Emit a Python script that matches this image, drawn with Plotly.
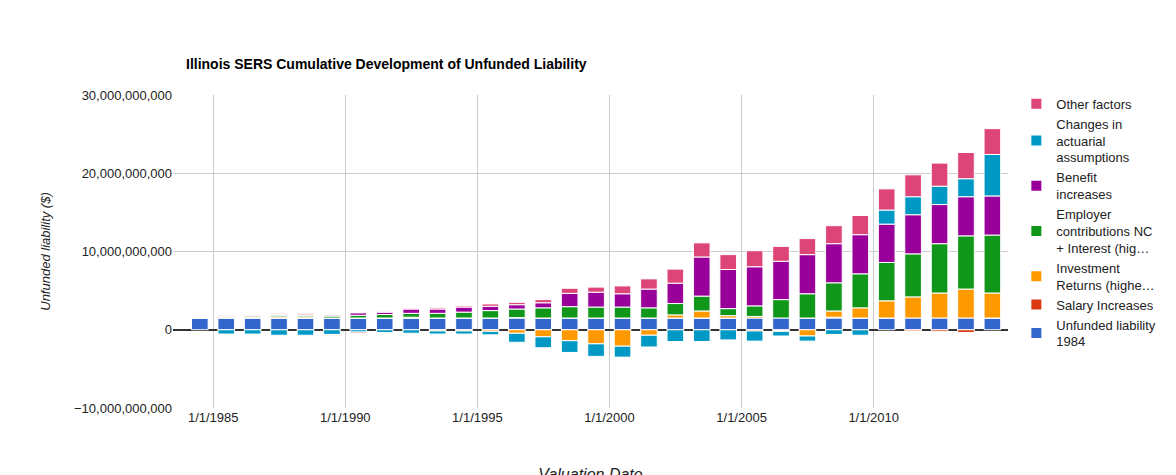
import plotly.graph_objects as go

# valuation dates (June 30 of each year, 1984-2014)
years = list(range(1984, 2015))
dates = [f"{y}-06-30" for y in years]

# values in billions of dollars
unfunded_1984 = [1.5] * 31
salary = [0, 0, 0, 0, 0, 0, 0, 0, 0, 0, 0, 0, 0.05, 0, 0, 0, 0, 0, 0, 0, 0, -0.15, -0.1, 0, 0.1, 0, 0, -0.15, -0.2, -0.35, 0]
investment = [0, 0.1, 0.1, 0.15, 0.15, 0, 0, 0, 0.1, -0.15, -0.15, -0.2, -0.45, -0.9, -1.4, -1.8,
              -2.1, -0.7, 0.4, 0.9, 0.3, 0.2, -0.1, -0.8, 0.8, 1.3, 2.2, 2.7, 3.2, 3.7, 3.2]
employer = [0, 0.1, 0.15, 0.2, 0.2, 0.25, 0.35, 0.45, 0.5, 0.6, 0.75, 0.95, 1.1, 1.3, 1.45, 1.4,
            1.4, 1.3, 1.45, 1.9, 0.9, 1.35, 2.35, 3.1, 3.6, 4.35, 4.9, 5.5, 6.3, 6.8, 7.4]
benefit = [0, 0.05, 0.1, 0.1, 0.05, 0.1, 0.3, 0.3, 0.55, 0.55, 0.65, 0.55, 0.55, 0.65, 1.7, 1.9,
           1.7, 2.4, 2.6, 5.0, 5.0, 5.0, 4.9, 5.0, 5.0, 5.0, 4.9, 5.0, 5.0, 5.0, 5.0]
assumptions = [0, -0.55, -0.55, -0.7, -0.7, -0.6, -0.3, -0.35, -0.45, -0.4, -0.4, -0.45, -1.15, -1.4, -1.5, -1.6,
               -1.4, -1.5, -1.5, -1.5, -1.3, -1.3, -0.6, -0.65, -0.6, -0.7, 1.8, 2.3, 2.35, 2.3, 5.3]
other = [0, 0.1, 0.1, 0.15, 0.15, -0.1, -0.15, 0.1, 0.1, 0.15, 0.15, 0.3, 0.3, 0.4, 0.65, 0.65,
         1.0, 1.3, 1.8, 1.8, 1.9, 2.05, 1.9, 2.05, 2.3, 2.45, 2.7, 2.8, 2.95, 3.35, 3.3]

series = [
    ("Unfunded liability<br>1984", unfunded_1984, "#3366cc"),
    ("Salary Increases", salary, "#dc3912"),
    ("Investment<br>Returns (highe…", investment, "#ff9900"),
    ("Employer<br>contributions NC<br>+ Interest (hig…", employer, "#109618"),
    ("Benefit<br>increases", benefit, "#990099"),
    ("Changes in<br>actuarial<br>assumptions", assumptions, "#0099c6"),
    ("Other factors", other, "#dd4477"),
]

fig = go.Figure()
for name, vals, color in series:
    fig.add_trace(go.Bar(
        x=dates, y=[v * 1e9 for v in vals], name=name,
        marker=dict(color=color, line=dict(color="white", width=1)),
        width=1000 * 3600 * 24 * 230,
    ))

font = "Arial, Liberation Sans, sans-serif"
fig.update_layout(
    barmode="relative",
    width=1176, height=475,
    plot_bgcolor="white", paper_bgcolor="white",
    font=dict(family=font, size=13, color="#222"),
    title=dict(text="<b>Illinois SERS Cumulative Development of Unfunded Liability</b>",
               x=178 / 1176, xanchor="left", y=1 - 56 / 475, yanchor="middle",
               font=dict(size=14, color="#000")),
    margin=dict(l=165, r=176, t=87, b=75),
    legend=dict(traceorder="reversed", x=1.01, y=1.02, yanchor="top",
                font=dict(size=13, color="#222"), itemsizing="constant",
                tracegroupgap=0, maxheight=1),
    showlegend=True,
)
fig.update_xaxes(
    type="date", range=["1983-06-25", "2015-02-01"], automargin=False,
    tickvals=[f"{y}-01-01" for y in range(1985, 2015, 5)],
    ticktext=[f"1/1/{y}" for y in range(1985, 2015, 5)],
    showgrid=True, gridcolor="#cccccc", zeroline=False, showline=False,
    title=dict(text="<i>Valuation Date</i>", standoff=45),
)
fig.update_yaxes(
    range=[-10e9, 30e9], dtick=10e9, tickformat=",.0f", automargin=False,
    showgrid=True, gridcolor="#cccccc",
    zeroline=True, zerolinecolor="#333333", zerolinewidth=1.5,
    title=dict(text="<i>Unfunded liability ($)</i>", standoff=20, font=dict(size=13)),
)

fig.write_html("out.html")
